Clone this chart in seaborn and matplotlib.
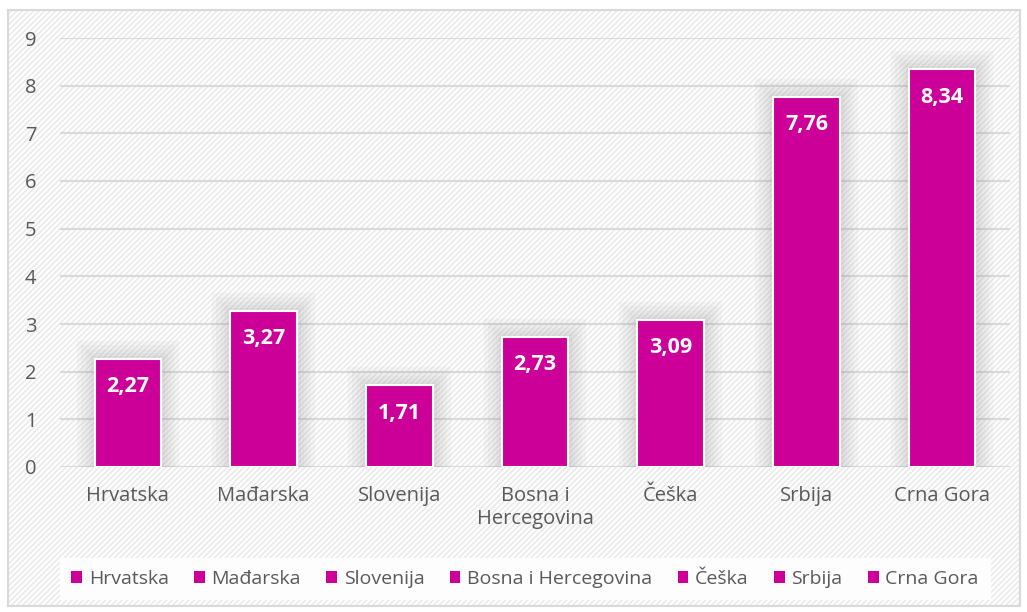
import pandas as pd
import numpy as np
import matplotlib.pyplot as plt
import matplotlib.patheffects as pe
import seaborn as sns
from matplotlib.patches import Rectangle

countries = ['Hrvatska', 'Mađarska', 'Slovenija', 'Bosna i Hercegovina', 'Češka', 'Srbija', 'Crna Gora']
tick_labels = ['Hrvatska', 'Mađarska', 'Slovenija', 'Bosna i\nHercegovina', 'Češka', 'Srbija', 'Crna Gora']
values = [2.27, 3.27, 1.71, 2.73, 3.09, 7.76, 8.34]

bar_color = '#CC0099'
text_color = '#595959'

sns.set_theme(style='white')
plt.rcParams['font.family'] = ['Open Sans', 'DejaVu Sans']

df = pd.DataFrame({'Zemlja': countries, 'Vrijednost': values})

fig = plt.figure(figsize=(10.27, 6.12), dpi=100)
fig.patch.set_facecolor('white')

# hatched chart-area background + light border
bg = Rectangle((8 / 1027, 1 - 606 / 612), 1012 / 1027, 596 / 612, transform=fig.transFigure,
               facecolor='#FDFDFD', edgecolor='#EBEBEB', hatch='//////', linewidth=0, zorder=-2)
bg._hatch_color = (0.91, 0.91, 0.91, 1)
fig.patches.append(bg)
border = Rectangle((8 / 1027, 1 - 606 / 612), 1012 / 1027, 596 / 612, transform=fig.transFigure,
                   facecolor='none', edgecolor='#D9D9D9', linewidth=1.5, zorder=-1)
fig.patches.append(border)

ax = fig.add_axes([60 / 1027, 1 - 467 / 612, 950 / 1027, 429 / 612])
ax.patch.set_alpha(0)

sns.barplot(data=df, x='Zemlja', y='Vrijednost', hue='Zemlja', palette=[bar_color] * len(countries),
            saturation=1, width=0.49, edgecolor='white', linewidth=1.5, legend=False, ax=ax, zorder=3)

# soft glow around the bars
glow = [pe.Stroke(linewidth=w, foreground='#7F7F7F', alpha=0.05) for w in (26, 20, 14, 9, 5)]
for p in ax.patches:
    p.set_path_effects(glow + [pe.Normal()])

ax.set_ylim(0, 9)
ax.set_yticks(range(0, 10))
ax.yaxis.grid(True, color='#D9D9D9', linewidth=1.5, zorder=0)
ax.set_axisbelow(True)
for s in ax.spines.values():
    s.set_visible(False)
ax.set_xlabel('')
ax.set_ylabel('')
ax.set_xticks(range(len(countries)))
ax.set_xticklabels(tick_labels)
ax.tick_params(axis='both', length=0, labelsize=14.5, colors=text_color)
ax.tick_params(axis='y', pad=17)
ax.tick_params(axis='x', pad=14)

for i, v in enumerate(values):
    ax.annotate(f'{v:.2f}'.replace('.', ','), (i, v), xytext=(0, -20), textcoords='offset points',
                ha='center', va='center', color='white', fontsize=15.5, fontweight='bold', zorder=5)

handles = [Rectangle((0, 0), 1, 1, facecolor=bar_color, edgecolor='none') for _ in countries]
leg = fig.legend(handles, countries, loc='center', bbox_to_anchor=(525 / 1027, 1 - 579 / 612), ncol=7,
                 frameon=True, fancybox=False, facecolor='#FDFDFD', edgecolor='none', framealpha=1,
                 fontsize=14, handlelength=0.55, handleheight=0.55, handletextpad=0.35, columnspacing=1.3,
                 borderpad=0.6)
for t in leg.get_texts():
    t.set_color(text_color)

fig.savefig('out.png', dpi=100)
